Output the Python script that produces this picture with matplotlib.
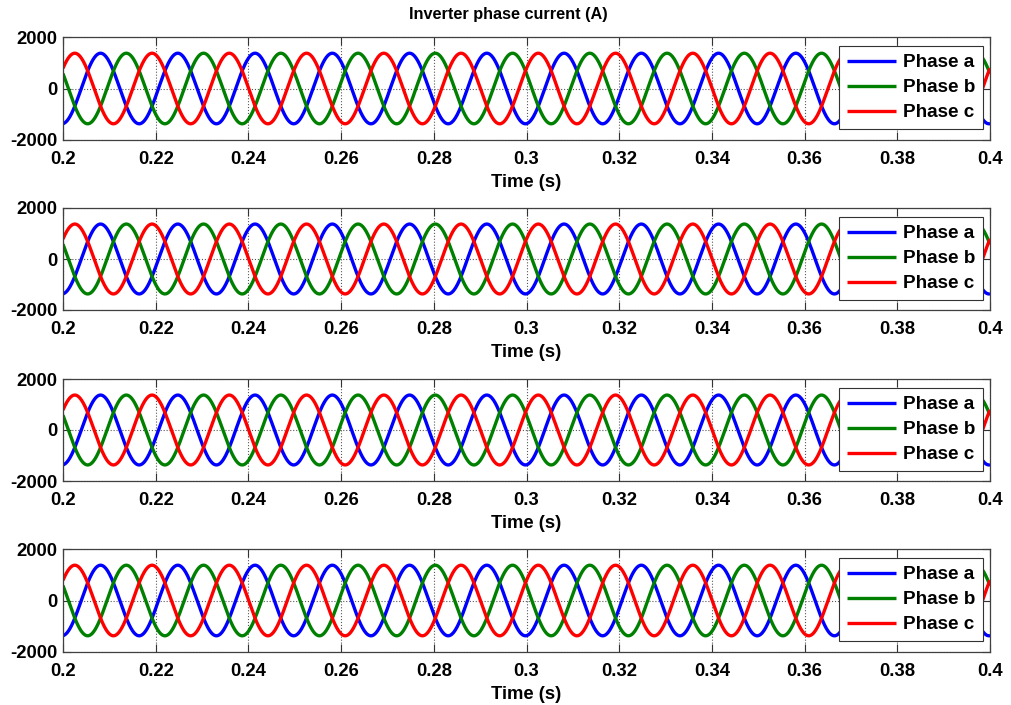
import numpy as np
import matplotlib
matplotlib.use("Agg")
import matplotlib.pyplot as plt

# Three-phase inverter output current, sampled between 0.2 s and 0.4 s
t_start, t_end = 0.2, 0.4
freq_hz = 60.0                      # fundamental frequency
amplitude_a = [1370, 1370, 1370, 1370]   # peak current per panel (A)
phase_names = ["Phase a", "Phase b", "Phase c"]
phase_shift_deg = [5.0, -115.0, -235.0]  # phase of -cos term at t = 0.2 s
phase_colors = ["#0000ff", "#008000", "#ff0000"]

x_ticks = [0.2, 0.22, 0.24, 0.26, 0.28, 0.3, 0.32, 0.34, 0.36, 0.38, 0.4]
x_tick_labels = ["0.2", "0.22", "0.24", "0.26", "0.28", "0.3", "0.32",
                 "0.34", "0.36", "0.38", "0.4"]
y_ticks = [-2000, 0, 2000]
y_tick_labels = ["-2000", "0", "2000"]

title_text = "Inverter phase current (A)"
xlabel_text = "Time (s)"

plt.rcParams["font.family"] = ["Liberation Sans", "DejaVu Sans"]

W, H = 1011, 705
fig = plt.figure(figsize=(W / 100, H / 100), dpi=100)

# axes pixel extents (top, bottom) for the four stacked panels
panel_px = [(37, 140), (208, 310), (379, 481), (549, 652)]
left_px, right_px = 63, 990

t = np.linspace(t_start, t_end, 4001)
omega = 2 * np.pi * freq_hz

for i, (top, bot) in enumerate(panel_px):
    ax = fig.add_axes([left_px / W, 1 - bot / H,
                       (right_px - left_px) / W, (bot - top) / H])
    amp = amplitude_a[i]
    for name, shift, col in zip(phase_names, phase_shift_deg, phase_colors):
        y = -amp * np.cos(omega * (t - t_start) + np.deg2rad(shift))
        ax.plot(t, y, color=col, lw=2.4, label=name, solid_capstyle="butt")

    ax.set_xlim(t_start, t_end)
    ax.set_ylim(-2000, 2000)
    ax.set_xticks(x_ticks)
    ax.set_xticklabels(x_tick_labels)
    ax.set_yticks(y_ticks)
    ax.set_yticklabels(y_tick_labels)
    ax.tick_params(direction="in", top=True, right=True, length=6,
                   width=0.8, labelsize=13.3, color="0.2")
    ax.tick_params(axis="x", pad=8)
    ax.tick_params(axis="y", pad=4)
    for lab in ax.get_xticklabels() + ax.get_yticklabels():
        lab.set_fontweight("bold")
    ax.grid(True, linestyle=":", color="0.35", linewidth=0.8)
    for sp in ax.spines.values():
        sp.set_color("0.25")
        sp.set_linewidth(0.9)

    ax.set_xlabel(xlabel_text, fontsize=13.3, fontweight="bold", labelpad=4)

    ax_w = right_px - left_px
    ax_h = bot - top
    leg = ax.legend(loc="upper right",
                    bbox_to_anchor=(1 - 7 / ax_w, 1 - 9 / ax_h),
                    borderaxespad=0, fancybox=False, framealpha=1,
                    edgecolor="0.2", handlelength=2.6, handletextpad=0.35,
                    labelspacing=0.42, borderpad=0.42,
                    prop={"size": 13.6, "weight": "bold"})
    leg.get_frame().set_linewidth(0.8)
    for line in leg.get_lines():
        line.set_linewidth(2.4)

fig.text(508 / W, 1 - 14 / H, title_text, fontsize=11.7, fontweight="bold",
         ha="center", va="center")

fig.savefig("out.png", dpi=100)
